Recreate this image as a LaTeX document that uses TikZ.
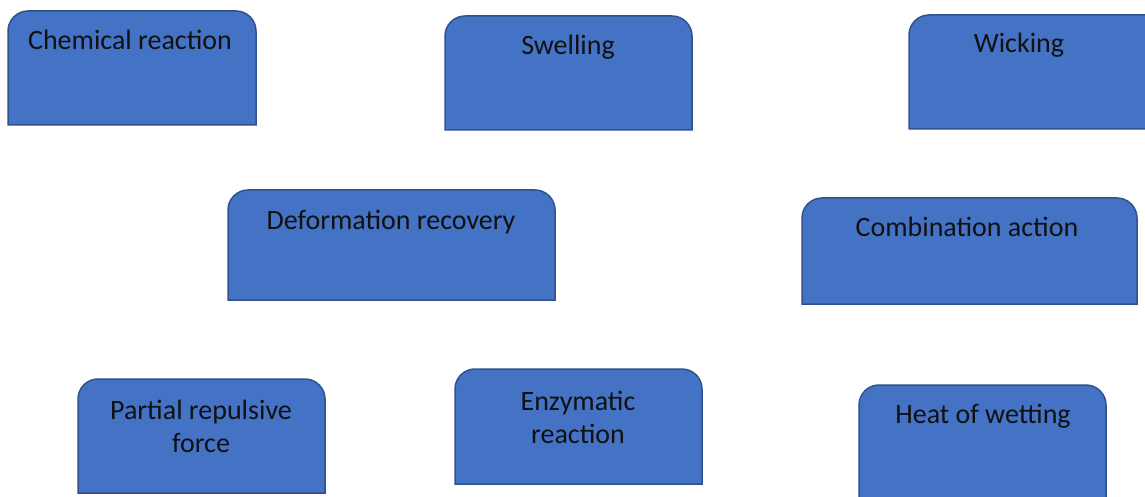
\documentclass[tikz,border=0pt]{standalone}
\usepackage{fontspec}
\setmainfont{Carlito}
\definecolor{boxfill}{HTML}{4472C4}
\definecolor{boxedge}{HTML}{2F528F}
\definecolor{txt}{HTML}{111111}
\begin{document}
\begin{tikzpicture}[x=1pt,y=-1pt,
  frame/.style={draw=none,inner sep=0pt,outer sep=0pt,anchor=north west},
  outline/.style={draw=boxedge,fill=boxfill,line width=1.5pt,line join=miter},
  lbl/.style={anchor=base,align=center,inner sep=0pt,text=txt,font=\fontsize{28}{33}\selectfont}]
\useasboundingbox (0,0) rectangle (1145,497);
% box frames
\node[frame,minimum width=248pt,minimum height=114pt] (cr) at (8,11) {};
\node[frame,minimum width=247pt,minimum height=114pt] (sw) at (445,16) {};
\node[frame,minimum width=260pt,minimum height=114pt] (wi) at (909,15) {};
\node[frame,minimum width=327pt,minimum height=110pt] (dr) at (228,190) {};
\node[frame,minimum width=335pt,minimum height=106pt] (ca) at (802,198) {};
\node[frame,minimum width=247pt,minimum height=114pt] (pr) at (78,379) {};
\node[frame,minimum width=247pt,minimum height=115pt] (en) at (455,369) {};
\node[frame,minimum width=247pt,minimum height=130pt] (hw) at (859,385) {};
\foreach \n in {cr,sw,wi,dr,ca,pr,en,hw}{
  \draw[outline] (\n.south west) -- ([yshift=-20pt]\n.north west)
    .. controls ([yshift=-9pt]\n.north west) and ([xshift=9pt]\n.north west) .. ([xshift=20pt]\n.north west)
    -- ([xshift=-20pt]\n.north east)
    .. controls ([xshift=-9pt]\n.north east) and ([yshift=-9pt]\n.north east) .. ([yshift=-20pt]\n.north east)
    -- (\n.south east) -- cycle;
}
% labels
\node[lbl] (crt) at (130,50) {Chemical reaction};
\node[lbl] (swt) at (568,55) {Swelling};
\node[lbl] (wit) at (1019,53) {Wicking};
\node[lbl] (drt) at (391,229) {Deformation recovery};
\node[lbl] (cat) at (967,236) {Combination action};
\node[lbl] (prt) at (201,452) {Partial repulsive\\force};
\node[lbl] (ent) at (578,443) {Enzymatic\\reaction};
\node[lbl] (hwt) at (983,423) {Heat of wetting};
\end{tikzpicture}
\end{document}
